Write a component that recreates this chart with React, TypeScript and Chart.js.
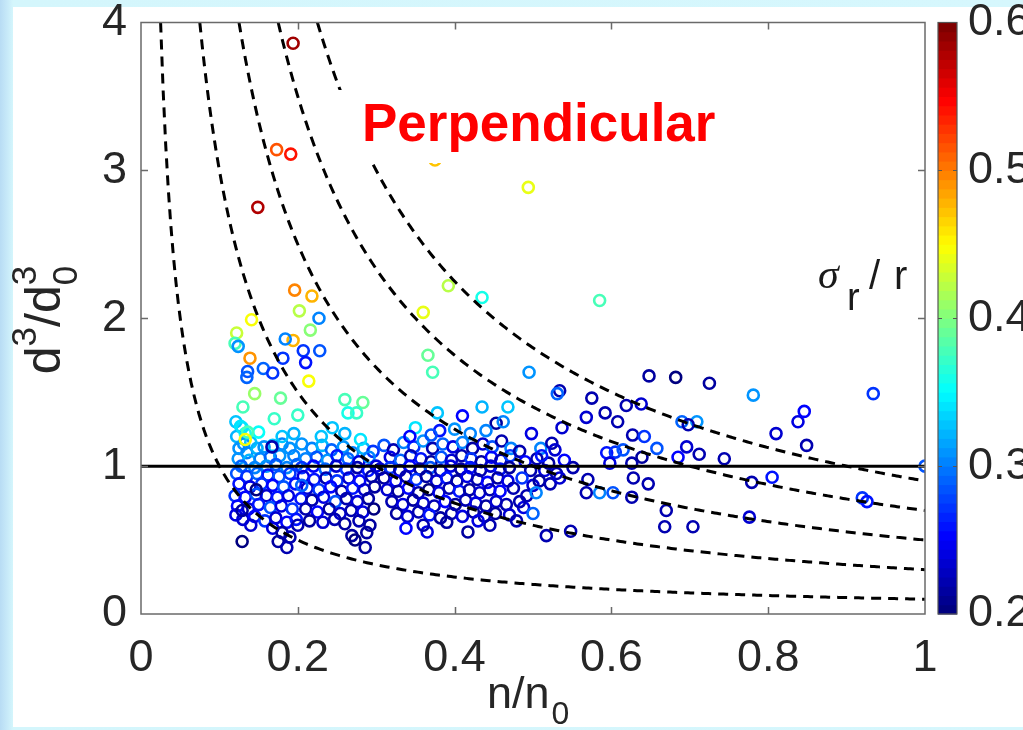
import React, { useEffect, useRef } from "react";
import { Chart, registerables } from "chart.js";

Chart.register(...registerables);

// [n/n0, d^3/d0^3, sigma_r / r]
const highOutliers: number[][] = [
  [0.194, 3.86, 0.59], [0.173, 3.14, 0.52], [0.191, 3.11, 0.54], [0.149, 2.75, 0.58],
  [0.375, 3.07, 0.47], [0.494, 2.885, 0.44], [0.196, 2.19, 0.5], [0.218, 2.15, 0.48],
  [0.392, 2.22, 0.42], [0.435, 2.14, 0.36], [0.585, 2.12, 0.38], [0.202, 2.05, 0.42],
  [0.36, 2.04, 0.44], [0.227, 2.0, 0.3], [0.141, 1.99, 0.45], [0.122, 1.9, 0.43],
  [0.216, 1.92, 0.4], [0.12, 1.83, 0.38], [0.124, 1.81, 0.31], [0.194, 1.85, 0.48],
  [0.184, 1.86, 0.3], [0.228, 1.78, 0.28], [0.207, 1.78, 0.27], [0.139, 1.73, 0.49],
  [0.181, 1.73, 0.27], [0.21, 1.7, 0.26], [0.136, 1.64, 0.28], [0.156, 1.66, 0.29],
  [0.168, 1.63, 0.27], [0.135, 1.6, 0.29], [0.214, 1.575, 0.45], [0.145, 1.49, 0.41],
  [0.178, 1.46, 0.39], [0.2, 1.345, 0.37], [0.17, 1.32, 0.37], [0.13, 1.4, 0.38],
  [0.26, 1.45, 0.38], [0.283, 1.43, 0.39], [0.264, 1.36, 0.36], [0.275, 1.36, 0.37],
  [0.366, 1.75, 0.39], [0.372, 1.635, 0.38], [0.495, 1.635, 0.31],
];

const leftCloud: number[][] = [
  [0.121, 1.3, 0.33], [0.127, 1.27, 0.34], [0.133, 1.22, 0.36], [0.122, 1.2, 0.32],
  [0.131, 1.15, 0.31], [0.14, 1.16, 0.33], [0.125, 1.12, 0.31], [0.135, 1.09, 0.3],
  [0.148, 1.12, 0.32], [0.157, 1.13, 0.31], [0.168, 1.14, 0.33], [0.18, 1.15, 0.3],
  [0.19, 1.12, 0.31], [0.124, 1.05, 0.31], [0.138, 1.04, 0.32], [0.152, 1.05, 0.3],
  [0.165, 1.06, 0.29], [0.177, 1.07, 0.31], [0.195, 1.07, 0.3], [0.128, 1.0, 0.29],
  [0.145, 0.99, 0.3], [0.16, 1.0, 0.31], [0.172, 1.01, 0.28], [0.186, 0.99, 0.3],
  [0.199, 1.01, 0.29], [0.167, 1.13, 0.22], [0.15, 1.23, 0.35], [0.18, 1.2, 0.33],
  [0.195, 1.22, 0.32], [0.129, 1.26, 0.34], [0.136, 1.23, 0.38], [0.133, 1.18, 0.45],
  [0.122, 0.95, 0.28], [0.135, 0.93, 0.27], [0.148, 0.95, 0.29], [0.162, 0.94, 0.26],
  [0.176, 0.93, 0.28], [0.19, 0.95, 0.27], [0.125, 0.88, 0.26], [0.139, 0.86, 0.24],
  [0.154, 0.88, 0.27], [0.168, 0.87, 0.25], [0.182, 0.86, 0.28], [0.197, 0.88, 0.26],
  [0.12, 0.8, 0.27], [0.133, 0.79, 0.25], [0.147, 0.81, 0.28], [0.16, 0.8, 0.23],
  [0.174, 0.79, 0.26], [0.188, 0.8, 0.24], [0.123, 0.73, 0.25], [0.137, 0.71, 0.23],
  [0.15, 0.74, 0.26], [0.165, 0.72, 0.28], [0.179, 0.73, 0.24], [0.193, 0.71, 0.27],
  [0.121, 0.67, 0.24], [0.13, 0.64, 0.23], [0.145, 0.66, 0.25], [0.158, 0.63, 0.27],
  [0.172, 0.65, 0.23], [0.186, 0.62, 0.25], [0.198, 0.64, 0.26], [0.14, 0.6, 0.23],
  [0.168, 0.58, 0.24], [0.18, 0.55, 0.21], [0.19, 0.52, 0.22], [0.2, 0.6, 0.22],
  [0.129, 0.49, 0.2], [0.175, 0.49, 0.21], [0.186, 0.45, 0.22], [0.147, 0.84, 0.2],
  [0.129, 0.7, 0.21],
];

const midCloud: number[][] = [
  [0.205, 1.15, 0.31], [0.218, 1.12, 0.3], [0.231, 1.14, 0.32], [0.243, 1.11, 0.29],
  [0.258, 1.13, 0.31], [0.27, 1.09, 0.3], [0.284, 1.12, 0.32], [0.296, 1.1, 0.27],
  [0.21, 1.05, 0.3], [0.224, 1.06, 0.28], [0.238, 1.04, 0.31], [0.25, 1.07, 0.26],
  [0.264, 1.05, 0.29], [0.278, 1.03, 0.24], [0.291, 1.06, 0.3], [0.205, 0.99, 0.27],
  [0.22, 1.0, 0.25], [0.235, 0.98, 0.29], [0.249, 1.0, 0.23], [0.262, 0.98, 0.27],
  [0.276, 0.99, 0.22], [0.29, 0.97, 0.26], [0.3, 1.0, 0.24], [0.23, 1.2, 0.33],
  [0.26, 1.22, 0.32], [0.28, 1.18, 0.34], [0.244, 1.26, 0.33], [0.207, 0.93, 0.24],
  [0.221, 0.91, 0.26], [0.236, 0.92, 0.22], [0.25, 0.9, 0.27], [0.265, 0.92, 0.23],
  [0.279, 0.9, 0.25], [0.294, 0.93, 0.22], [0.212, 0.85, 0.23], [0.227, 0.84, 0.27],
  [0.242, 0.86, 0.25], [0.256, 0.83, 0.22], [0.27, 0.85, 0.26], [0.285, 0.84, 0.23],
  [0.298, 0.86, 0.21], [0.204, 0.78, 0.26], [0.218, 0.77, 0.22], [0.233, 0.79, 0.24],
  [0.248, 0.76, 0.28], [0.262, 0.78, 0.22], [0.276, 0.76, 0.24], [0.29, 0.78, 0.21],
  [0.21, 0.71, 0.22], [0.225, 0.69, 0.25], [0.24, 0.71, 0.21], [0.254, 0.68, 0.23],
  [0.268, 0.7, 0.22], [0.283, 0.69, 0.24], [0.297, 0.71, 0.2], [0.215, 0.63, 0.21],
  [0.232, 0.62, 0.23], [0.247, 0.64, 0.22], [0.26, 0.61, 0.21], [0.278, 0.63, 0.22],
  [0.292, 0.6, 0.21], [0.269, 0.53, 0.21], [0.288, 0.55, 0.21], [0.286, 0.45, 0.21],
  [0.273, 0.5, 0.2], [0.205, 0.87, 0.29],
];

const centerCloud: number[][] = [
  [0.31, 1.14, 0.28], [0.322, 1.11, 0.22], [0.335, 1.16, 0.3], [0.348, 1.13, 0.27],
  [0.36, 1.17, 0.31], [0.372, 1.12, 0.22], [0.385, 1.15, 0.29], [0.398, 1.13, 0.24],
  [0.41, 1.16, 0.3], [0.423, 1.12, 0.21], [0.436, 1.15, 0.23], [0.448, 1.13, 0.28],
  [0.46, 1.17, 0.22], [0.472, 1.12, 0.3], [0.318, 1.06, 0.24], [0.331, 1.04, 0.29],
  [0.344, 1.07, 0.22], [0.357, 1.05, 0.26], [0.37, 1.03, 0.21], [0.383, 1.06, 0.28],
  [0.396, 1.04, 0.23], [0.409, 1.07, 0.22], [0.421, 1.05, 0.27], [0.434, 1.03, 0.21],
  [0.447, 1.06, 0.25], [0.459, 1.04, 0.22], [0.471, 1.07, 0.27], [0.305, 0.98, 0.23],
  [0.318, 0.99, 0.27], [0.33, 0.97, 0.22], [0.343, 1.0, 0.25], [0.356, 0.98, 0.21],
  [0.369, 0.99, 0.28], [0.382, 0.97, 0.22], [0.395, 1.0, 0.24], [0.408, 0.98, 0.21],
  [0.42, 0.99, 0.26], [0.433, 0.97, 0.22], [0.446, 1.0, 0.23], [0.458, 0.98, 0.26],
  [0.47, 0.99, 0.21], [0.31, 0.92, 0.21], [0.325, 0.9, 0.25], [0.338, 0.93, 0.22],
  [0.351, 0.91, 0.27], [0.364, 0.93, 0.21], [0.377, 0.9, 0.23], [0.39, 0.92, 0.26],
  [0.403, 0.9, 0.21], [0.416, 0.93, 0.24], [0.429, 0.91, 0.22], [0.442, 0.89, 0.25],
  [0.455, 0.92, 0.21], [0.468, 0.9, 0.24], [0.314, 0.84, 0.23], [0.328, 0.83, 0.21],
  [0.341, 0.85, 0.25], [0.354, 0.82, 0.22], [0.367, 0.84, 0.2], [0.38, 0.82, 0.24],
  [0.393, 0.85, 0.22], [0.406, 0.83, 0.26], [0.419, 0.84, 0.21], [0.432, 0.82, 0.23],
  [0.445, 0.84, 0.22], [0.458, 0.83, 0.25], [0.475, 0.85, 0.22], [0.32, 0.76, 0.22],
  [0.334, 0.74, 0.24], [0.347, 0.77, 0.21], [0.36, 0.75, 0.23], [0.374, 0.73, 0.22],
  [0.388, 0.76, 0.25], [0.401, 0.74, 0.21], [0.414, 0.77, 0.22], [0.427, 0.75, 0.24],
  [0.44, 0.73, 0.21], [0.453, 0.76, 0.23], [0.466, 0.74, 0.22], [0.326, 0.68, 0.21],
  [0.34, 0.66, 0.23], [0.354, 0.69, 0.22], [0.368, 0.67, 0.26], [0.382, 0.65, 0.21],
  [0.396, 0.68, 0.22], [0.41, 0.66, 0.24], [0.424, 0.69, 0.21], [0.438, 0.66, 0.22],
  [0.452, 0.68, 0.21], [0.47, 0.67, 0.23], [0.338, 0.58, 0.25], [0.365, 0.555, 0.24],
  [0.417, 0.555, 0.21], [0.36, 0.6, 0.22], [0.39, 0.62, 0.21], [0.445, 0.6, 0.22],
  [0.43, 0.63, 0.24], [0.35, 1.26, 0.34], [0.378, 1.36, 0.33], [0.435, 1.4, 0.32],
  [0.468, 1.4, 0.33], [0.41, 1.34, 0.25], [0.453, 1.29, 0.21], [0.381, 1.24, 0.26],
  [0.343, 1.2, 0.25], [0.462, 1.3, 0.3], [0.42, 1.22, 0.3], [0.4, 1.25, 0.31],
  [0.37, 1.21, 0.28], [0.44, 1.24, 0.3],
];

const rightCloud: number[][] = [
  [0.483, 1.1, 0.22], [0.49, 1.03, 0.25], [0.497, 0.97, 0.22], [0.486, 0.92, 0.27],
  [0.5, 0.87, 0.23], [0.492, 0.8, 0.22], [0.488, 0.72, 0.24], [0.479, 0.63, 0.22],
  [0.51, 1.12, 0.3], [0.505, 1.05, 0.22], [0.515, 0.97, 0.24], [0.52, 1.02, 0.21],
  [0.53, 0.95, 0.22], [0.54, 1.04, 0.25], [0.508, 0.9, 0.21], [0.483, 0.76, 0.22],
  [0.5, 0.68, 0.29], [0.504, 0.82, 0.3], [0.517, 0.53, 0.22], [0.548, 0.56, 0.22],
  [0.522, 0.88, 0.22], [0.534, 0.92, 0.23], [0.551, 0.99, 0.22], [0.524, 1.155, 0.22],
  [0.528, 1.11, 0.23], [0.511, 1.07, 0.26], [0.534, 1.51, 0.22], [0.531, 1.49, 0.29],
  [0.537, 1.26, 0.23], [0.498, 1.22, 0.24],
];

const farRight: number[][] = [
  [0.648, 1.61, 0.21], [0.682, 1.6, 0.2], [0.725, 1.56, 0.21], [0.781, 1.48, 0.31],
  [0.934, 1.49, 0.27], [0.575, 1.46, 0.22], [0.568, 1.33, 0.23], [0.592, 1.36, 0.22],
  [0.608, 1.3, 0.22], [0.619, 1.41, 0.22], [0.638, 1.42, 0.23], [0.627, 1.21, 0.22],
  [0.642, 1.2, 0.27], [0.69, 1.3, 0.29], [0.709, 1.3, 0.31], [0.698, 1.28, 0.22],
  [0.658, 1.12, 0.28], [0.696, 1.13, 0.23], [0.712, 1.08, 0.22], [0.744, 1.05, 0.22],
  [0.685, 1.06, 0.25], [0.81, 1.22, 0.23], [0.838, 1.3, 0.24], [0.846, 1.37, 0.25],
  [0.849, 1.14, 0.22], [1.0, 1.0, 0.28], [0.779, 0.89, 0.22], [0.805, 0.925, 0.26],
  [0.92, 0.785, 0.27], [0.926, 0.76, 0.26], [0.776, 0.655, 0.23], [0.67, 0.7, 0.22],
  [0.668, 0.59, 0.22], [0.704, 0.59, 0.22], [0.568, 0.82, 0.22], [0.585, 0.82, 0.3],
  [0.602, 0.82, 0.28], [0.626, 0.79, 0.22], [0.57, 0.91, 0.22], [0.628, 0.92, 0.22],
  [0.647, 0.88, 0.22], [0.594, 1.09, 0.26], [0.605, 1.095, 0.27], [0.615, 1.11, 0.28],
  [0.626, 1.02, 0.22], [0.639, 1.06, 0.21], [0.598, 1.02, 0.24],
];

const curveConstants = [0.1, 0.3, 0.5, 0.7, 0.9];
const referenceLevel = 1;
const colorRange = [0.2, 0.6];
const xTickStep = 0.2;
const yTickStep = 1;
const colorTickStep = 0.1;

const FONT = '"Liberation Sans", Arial, Helvetica, sans-serif';

function clamp01(v: number) {
  return Math.max(0, Math.min(1, v));
}

function jet(value: number): string {
  let t = clamp01((value - colorRange[0]) / (colorRange[1] - colorRange[0]));
  t = Math.round(t * 63) / 63;
  const r = clamp01(1.5 - Math.abs(4 * t - 3));
  const g = clamp01(1.5 - Math.abs(4 * t - 2));
  const b = clamp01(1.5 - Math.abs(4 * t - 1));
  return `rgb(${Math.round(r * 255)},${Math.round(g * 255)},${Math.round(b * 255)})`;
}

function fmt(v: number) {
  return String(Number(v.toFixed(2)));
}

const hiddenGrid = {
  display: true,
  drawOnChartArea: false,
  drawTicks: true,
  color: "rgba(0,0,0,0)",
};

const decorPlugin = {
  id: "decor",
  afterDatasetsDraw(chart: any) {
    const { ctx, chartArea: a, scales } = chart;
    const xs = scales.x;
    const ys = scales.y;
    const cb = scales.cb;
    ctx.save();

    // "Perpendicular" text with white background
    ctx.fillStyle = "#ffffff";
    ctx.fillRect(338, 90, 395, 73);
    ctx.font = `bold 53px ${FONT}`;
    ctx.fillStyle = "#ff0000";
    ctx.textBaseline = "alphabetic";
    ctx.textAlign = "left";
    ctx.fillText("Perpendicular", 362, 141);

    // axes box and inward ticks
    ctx.strokeStyle = "#6a6a6a";
    ctx.lineWidth = 1.5;
    ctx.strokeRect(a.left, a.top, a.width, a.height);
    ctx.beginPath();
    for (const v of [0.2, 0.4, 0.6, 0.8]) {
      const px = Math.round(xs.getPixelForValue(v)) + 0.5;
      ctx.moveTo(px, a.bottom);
      ctx.lineTo(px, a.bottom - 7);
      ctx.moveTo(px, a.top);
      ctx.lineTo(px, a.top + 7);
    }
    for (const v of [1, 2, 3]) {
      const py = Math.round(ys.getPixelForValue(v)) + 0.5;
      ctx.moveTo(a.left, py);
      ctx.lineTo(a.left + 7, py);
      ctx.moveTo(a.right, py);
      ctx.lineTo(a.right - 7, py);
    }
    ctx.stroke();

    // colorbar
    const cbL = a.right + 13;
    const cbW = 19;
    const cTop = cb.getPixelForValue(colorRange[1]);
    const cBot = cb.getPixelForValue(colorRange[0]);
    const n = 64;
    const h = (cBot - cTop) / n;
    for (let i = 0; i < n; i++) {
      const v = colorRange[0] + ((i + 0.5) / n) * (colorRange[1] - colorRange[0]);
      ctx.fillStyle = jet(v);
      ctx.fillRect(cbL, cBot - (i + 1) * h - 0.5, cbW, h + 1);
    }
    ctx.strokeStyle = "#555555";
    ctx.lineWidth = 1.2;
    ctx.strokeRect(cbL, cTop, cbW, cBot - cTop);
    ctx.beginPath();
    for (const v of [0.3, 0.4, 0.5]) {
      const py = Math.round(cb.getPixelForValue(v)) + 0.5;
      ctx.moveTo(cbL, py);
      ctx.lineTo(cbL + 4, py);
      ctx.moveTo(cbL + cbW, py);
      ctx.lineTo(cbL + cbW - 4, py);
    }
    ctx.stroke();

    // sigma_r / r label
    ctx.fillStyle = "#1a1a1a";
    ctx.font = `italic 42px "Liberation Serif", "DejaVu Serif", serif`;
    ctx.fillText("\u03C3", 818, 288);
    ctx.font = `38px ${FONT}`;
    ctx.fillText("r", 847, 310);
    ctx.font = `40px ${FONT}`;
    ctx.fillText("/", 869, 289);
    ctx.fillText("r", 894, 289);

    // x axis label n/n0
    ctx.fillStyle = "#262626";
    ctx.font = `45px ${FONT}`;
    ctx.fillText("n/n", 487, 708);
    const wn = ctx.measureText("n/n").width;
    ctx.font = `32px ${FONT}`;
    ctx.fillText("0", 487 + wn + 2, 724);

    // y axis label d^3/d0^3 (rotated)
    ctx.save();
    ctx.translate(60, 320);
    ctx.rotate(-Math.PI / 2);
    const fMain = `50px ${FONT}`;
    const fSmall = `35px ${FONT}`;
    ctx.font = fMain;
    const wd = ctx.measureText("d").width;
    const wsd = ctx.measureText("/d").width;
    ctx.font = fSmall;
    const w3 = ctx.measureText("3").width;
    const total = wd + w3 + wsd + w3;
    let x = -total / 2;
    ctx.font = fMain;
    ctx.fillText("d", x, 0);
    x += wd;
    ctx.font = fSmall;
    ctx.fillText("3", x, -24);
    x += w3;
    ctx.font = fMain;
    ctx.fillText("/d", x, 0);
    x += wsd;
    ctx.font = fSmall;
    ctx.fillText("0", x, 17);
    ctx.fillText("3", x, -24);
    ctx.restore();

    ctx.restore();
  },
};

export default function App() {
  const ref = useRef<HTMLCanvasElement | null>(null);

  useEffect(() => {
    if (!ref.current) return;
    const points = [
      ...highOutliers,
      ...leftCloud,
      ...midCloud,
      ...centerCloud,
      ...rightCloud,
      ...farRight,
    ];

    const curveSets = curveConstants.map((c) => {
      const x0 = c / 4;
      const m = 300;
      const data = [] as { x: number; y: number }[];
      for (let i = 0; i <= m; i++) {
        const xv = x0 + ((1 - x0) * i) / m;
        data.push({ x: xv, y: c / xv });
      }
      return {
        type: "line" as const,
        data,
        showLine: true,
        borderColor: "#000000",
        borderWidth: 3,
        borderDash: [10, 7],
        pointRadius: 0,
        fill: false,
        tension: 0,
        order: 2,
      };
    });

    const chart = new Chart(ref.current, {
      type: "scatter",
      data: {
        datasets: [
          {
            type: "line" as const,
            data: [
              { x: 0, y: referenceLevel },
              { x: 1, y: referenceLevel },
            ],
            showLine: true,
            borderColor: "#000000",
            borderWidth: 3,
            pointRadius: 0,
            order: 1,
          },
          ...curveSets,
          {
            type: "scatter" as const,
            data: points.map((p) => ({ x: p[0], y: p[1] })),
            pointStyle: "circle",
            pointRadius: 5.5,
            pointBorderWidth: 2.6,
            pointBackgroundColor: "rgba(0,0,0,0)",
            pointBorderColor: points.map((p) => jet(p[2])),
            order: 3,
          },
        ] as any,
      },
      options: {
        animation: false,
        responsive: false,
        devicePixelRatio: 1,
        events: [],
        layout: { padding: { top: 22, left: 0, right: 0, bottom: 0 } },
        plugins: {
          legend: { display: false },
          tooltip: { enabled: false },
          title: { display: false },
        },
        scales: {
          x: {
            type: "linear",
            min: 0,
            max: 1,
            grid: { ...hiddenGrid, tickLength: 22 },
            border: { display: false },
            ticks: {
              stepSize: xTickStep,
              padding: 0,
              color: "#262626",
              font: { family: FONT, size: 45, lineHeight: 1 },
              callback: (v: any) => fmt(Number(v)),
              maxRotation: 0,
              autoSkip: false,
            },
            afterFit: (s: any) => {
              s.height = 116;
            },
          },
          y: {
            type: "linear",
            min: 0,
            max: 4,
            grid: { ...hiddenGrid, tickLength: 14 },
            border: { display: false },
            ticks: {
              stepSize: yTickStep,
              padding: 0,
              color: "#262626",
              font: { family: FONT, size: 45, lineHeight: 1 },
              callback: (v: any) => fmt(Number(v)),
            },
            afterFit: (s: any) => {
              s.width = 141;
            },
          },
          cb: {
            type: "linear",
            position: "right",
            min: colorRange[0],
            max: colorRange[1],
            grid: { ...hiddenGrid, tickLength: 43 },
            border: { display: false },
            ticks: {
              stepSize: colorTickStep,
              padding: 0,
              color: "#262626",
              font: { family: FONT, size: 45, lineHeight: 1 },
              callback: (v: any) => fmt(Number(v)),
            },
            afterFit: (s: any) => {
              s.width = 98;
            },
          },
        },
      } as any,
      plugins: [decorPlugin],
    });

    return () => chart.destroy();
  }, []);

  return (
    <div
      style={{
        position: "absolute",
        left: 0,
        top: 0,
        width: 1023,
        height: 730,
        background:
          "linear-gradient(90deg, #b8dcf4 0px, #c9ebf9 8px, #d4f6fc 13px, #d6f7fd 100%)",
        overflow: "hidden",
      }}
    >
      <div
        style={{
          position: "absolute",
          left: 13,
          top: 7,
          width: 1010,
          height: 720,
          background: "#ffffff",
        }}
      />
      <canvas
        ref={ref}
        width={1023}
        height={730}
        style={{ position: "absolute", left: 0, top: 0, width: 1023, height: 730 }}
      />
    </div>
  );
}
